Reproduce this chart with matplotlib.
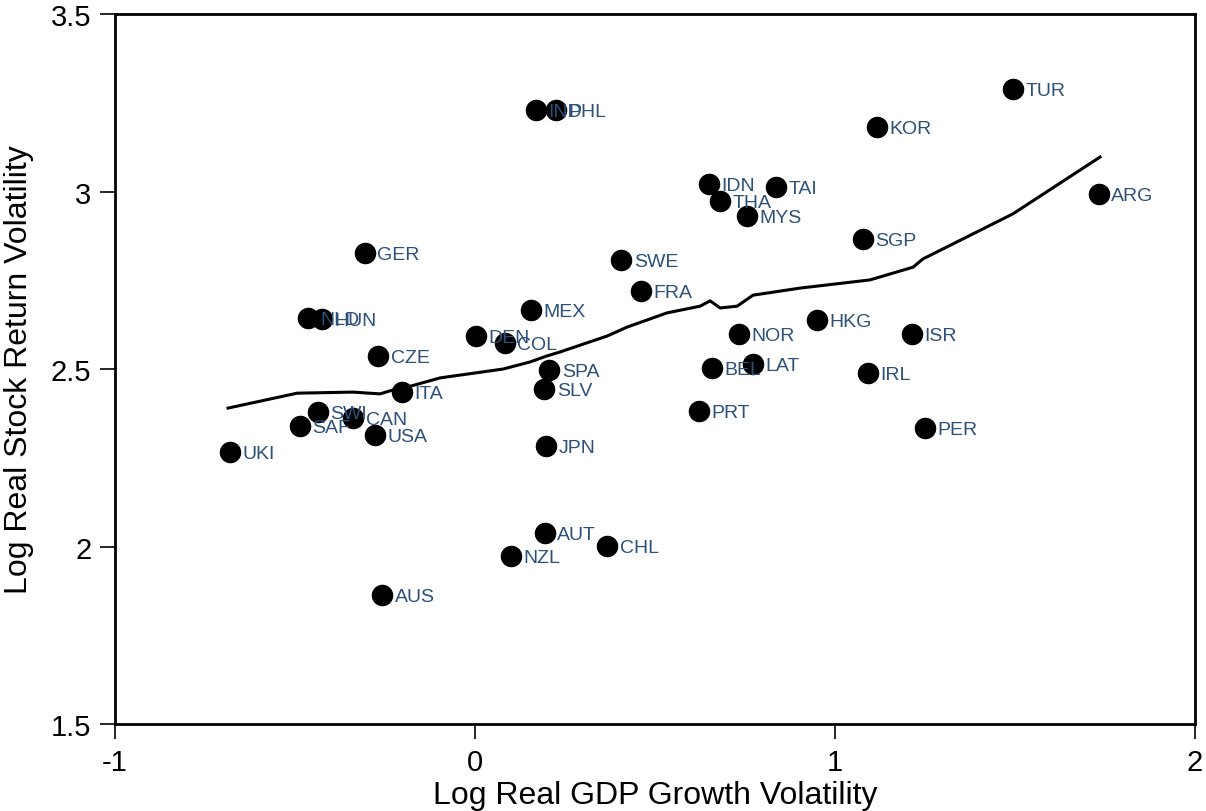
import matplotlib
matplotlib.use('Agg')
import matplotlib.pyplot as plt

plt.rcParams['font.family'] = ['Liberation Sans', 'DejaVu Sans']

# country points: log GDP growth volatility vs log stock return volatility
countries = ['UKI', 'SAF', 'SWI', 'CAN', 'USA', 'NLD', 'HUN', 'GER', 'CZE', 'ITA',
             'AUS', 'DEN', 'COL', 'MEX', 'SPA', 'SLV', 'JPN', 'AUT', 'NZL', 'CHL',
             'IND', 'PHL', 'SWE', 'FRA', 'IDN', 'THA', 'MYS', 'TAI', 'NOR', 'BEL',
             'LAT', 'PRT', 'HKG', 'SGP', 'KOR', 'TUR', 'ARG', 'ISR', 'IRL', 'PER']
gdp_vol = [-0.681, -0.486, -0.436, -0.339, -0.278, -0.464, -0.425, -0.306, -0.269, -0.203,
           -0.258, 0.003, 0.083, 0.156, 0.206, 0.192, 0.197, 0.194, 0.100, 0.367,
           0.169, 0.225, 0.406, 0.461, 0.650, 0.681, 0.756, 0.836, 0.733, 0.658,
           0.772, 0.622, 0.950, 1.078, 1.117, 1.494, 1.733, 1.214, 1.092, 1.250]
stock_vol = [2.266, 2.339, 2.379, 2.362, 2.314, 2.644, 2.641, 2.827, 2.537, 2.435,
             1.863, 2.593, 2.573, 2.666, 2.497, 2.444, 2.283, 2.038, 1.973, 2.001,
             3.230, 3.230, 2.807, 2.720, 3.021, 2.973, 2.931, 3.013, 2.599, 2.503,
             2.514, 2.382, 2.638, 2.866, 3.182, 3.289, 2.993, 2.599, 2.489, 2.334]

# smoothed fit line
fit_x = [-0.686, -0.494, -0.339, -0.264, -0.228, -0.189, -0.097, 0.078, 0.153, 0.200,
         0.236, 0.367, 0.422, 0.533, 0.625, 0.653, 0.681, 0.728, 0.772, 0.903,
         1.097, 1.217, 1.244, 1.494, 1.736]
fit_y = [2.390, 2.432, 2.435, 2.430, 2.441, 2.449, 2.475, 2.500, 2.520, 2.537,
         2.548, 2.593, 2.618, 2.658, 2.677, 2.692, 2.672, 2.677, 2.708, 2.728,
         2.751, 2.787, 2.810, 2.937, 3.097]

fig = plt.figure(figsize=(12.06, 8.12), dpi=100)
ax = fig.add_axes([0.0954, 0.1071, 0.8955, 0.8744])

ax.plot(fit_x, fit_y, color='black', linewidth=2.2, zorder=2)
ax.scatter(gdp_vol, stock_vol, s=210, color='black', zorder=3)

for name, x, y in zip(countries, gdp_vol, stock_vol):
    ax.annotate(name, (x, y), xytext=(9, -1), textcoords='offset points',
                va='center', ha='left', fontsize=14, color='#2b5079', zorder=4)

ax.set_xlim(-1, 2)
ax.set_ylim(1.5, 3.5)
ax.set_xticks([-1, 0, 1, 2])
ax.set_xticklabels(['-1', '0', '1', '2'])
ax.set_yticks([1.5, 2, 2.5, 3, 3.5])
ax.set_yticklabels(['1.5', '2', '2.5', '3', '3.5'])

for sp in ax.spines.values():
    sp.set_linewidth(2)
ax.tick_params(direction='out', length=11, width=1.2, labelsize=21, pad=6)

ax.set_xlabel('Log Real GDP Growth Volatility', fontsize=23, labelpad=3)
ax.set_ylabel('Log Real Stock Return Volatility', fontsize=23, labelpad=12)

plt.savefig('out.png', dpi=100)
